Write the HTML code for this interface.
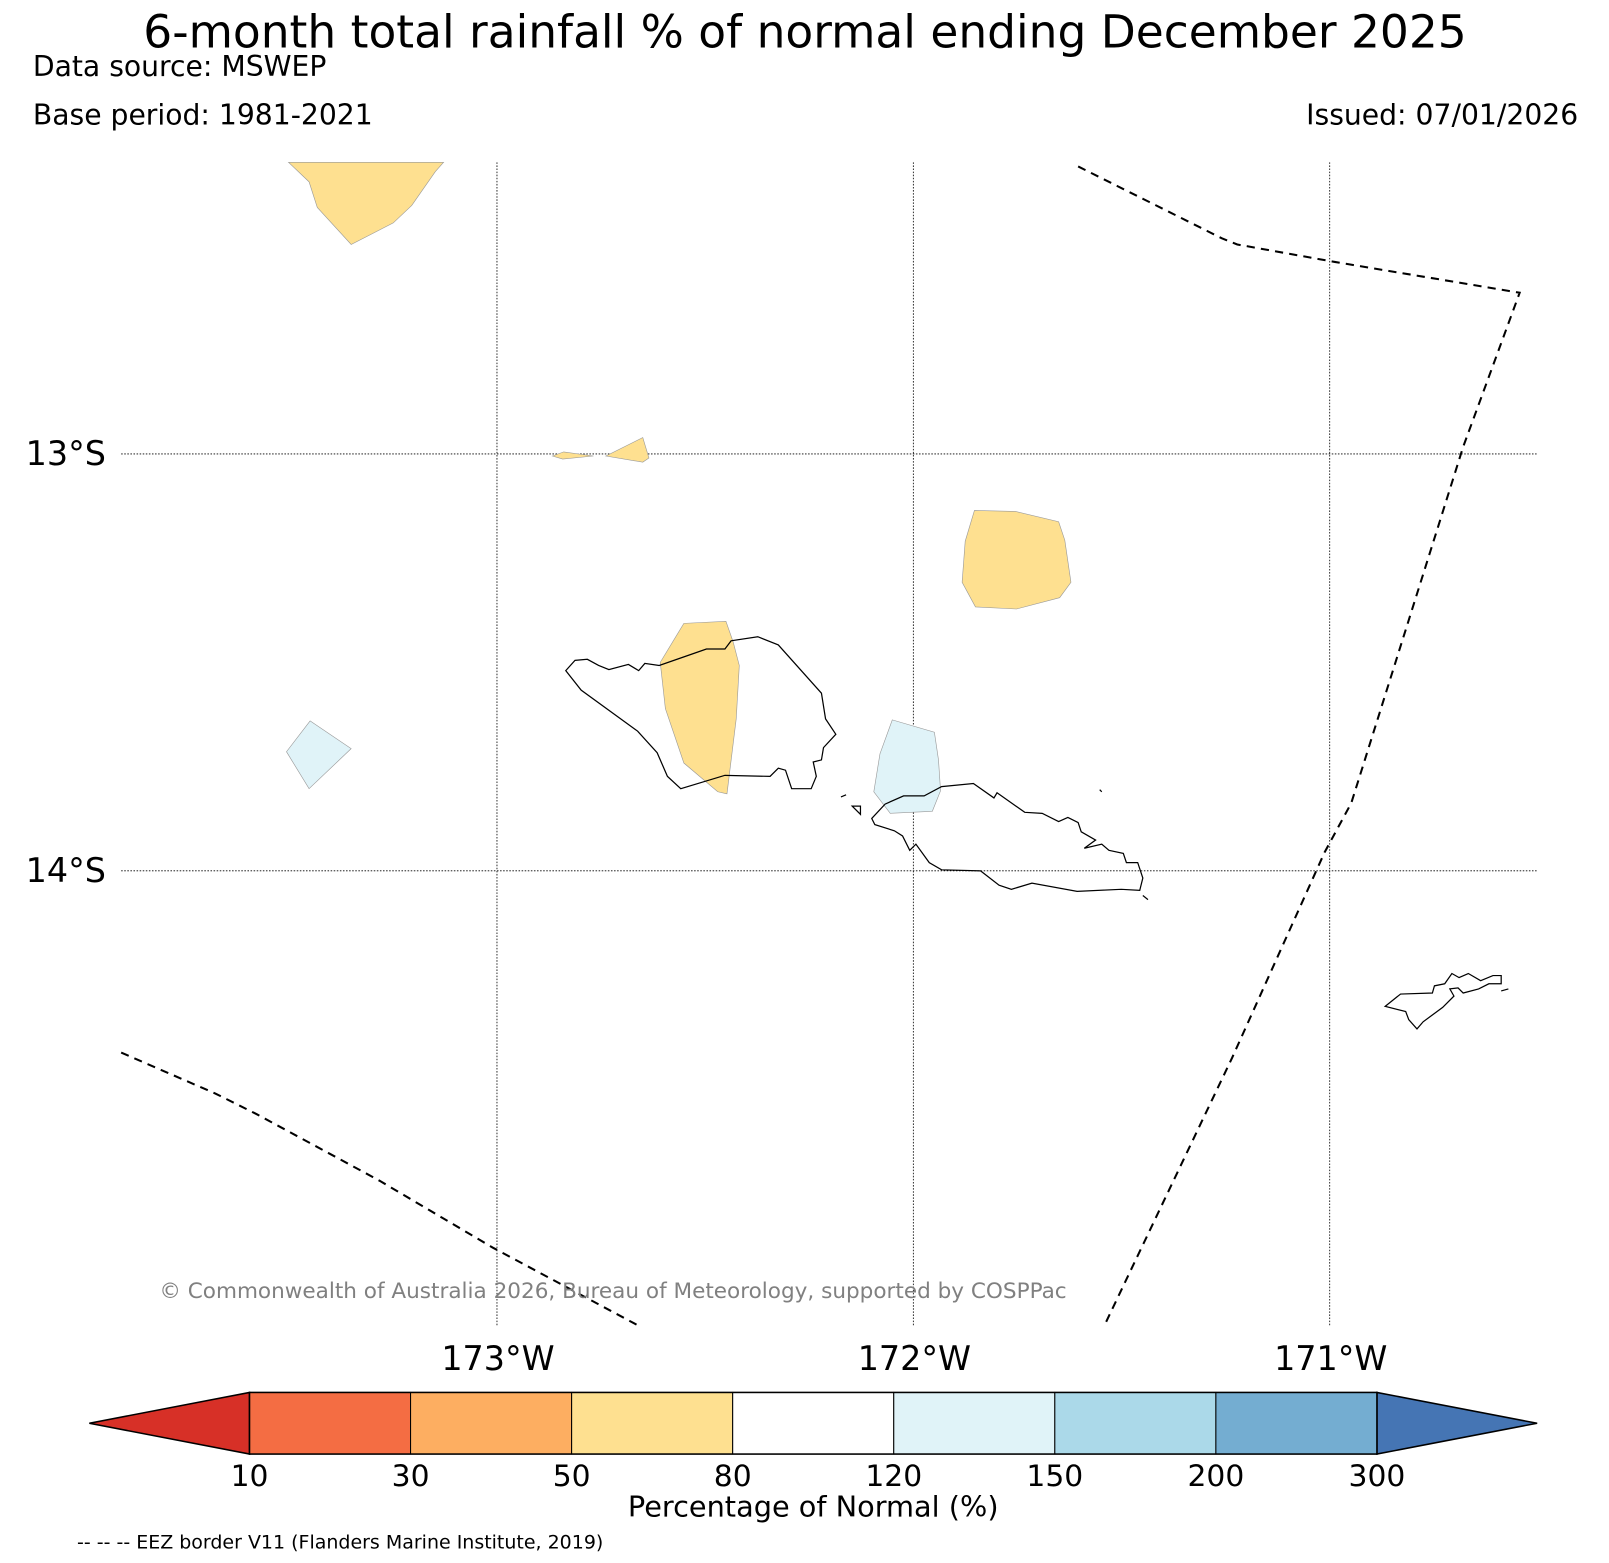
<!DOCTYPE html>
<html><head><meta charset="utf-8"><style>
html,body{margin:0;padding:0;background:#fff}
svg{display:block}
text{font-family:"DejaVu Sans","Liberation Sans",sans-serif}
</style></head><body>
<svg id="fig" width="1609" height="1563" viewBox="0 0 1567 1522" xmlns="http://www.w3.org/2000/svg">
<text x="784" y="46" font-size="44.3" text-anchor="middle">6-month total rainfall % of normal ending December 2025</text>
<text x="32" y="74" font-size="27.5">Data source: MSWEP</text>
<text x="32" y="121" font-size="27.5">Base period: 1981-2021</text>
<text x="1537" y="121" font-size="27.5" text-anchor="end">Issued: 07/01/2026</text>

<g>
<g id="grid" stroke="#000" stroke-width="0.8" stroke-dasharray="1.5,1.5"></g>
<g stroke="#999" stroke-width="0.6">
<path fill="#fee090" d="M281,158 301,177 309,202 342,238 383,217 401,200 424,167 432,158Z"/>
<path fill="#fee090" d="M538,444 549,440 578,444 548,447Z"/>
<path fill="#fee090" d="M590,444 626,426 632,446 626,450Z"/>
<path fill="#fee090" d="M949,497 989,498 1031,508 1037,526 1043,567 1032,582 990,593 950,591 937,567 940,527Z"/>
<path fill="#fee090" d="M666,607 707,605 714,625 720,648 717,700 708,773 699,771 666,743 648,690 643,645Z"/>
<path fill="#e0f3f8" d="M302,702 342,729 301,768 279,732Z"/>
<path fill="#e0f3f8" d="M869,701 910,713 914,740 916,770 908,790 867,792 851,771 857,734Z"/>
</g>
<g fill="none" stroke="#000" stroke-width="1.2">
<path d="M551,653 560,643 572,642 583,648 593,652 612,647 622,653 628,646 642,648 665,640 688,632 706,632 712,624 738,620 758,628 800,675 804,700 814,715 802,728 800,740 792,742 795,756 790,768 771,768 765,750 758,748 750,756 706,755 663,768 650,756 640,733 621,712 566,672Z"/>
<path d="M849,797 862,783 880,775 900,775 917,766 948,763 968,777 971,772 998,791 1015,792 1031,800 1040,796 1050,801 1053,810 1067,818 1056,826 1073,822 1080,828 1094,831 1097,840 1108,840 1113,855 1110,867 1092,866 1049,868 1005,860 985,866 973,862 955,848 917,847 905,840 892,822 886,828 879,814 871,809 852,803Z M1113,872 1118,876 M819,776 824,774 M830,785 838,793 838,785Z M1071,769 1073,771"/>
<path d="M1349,980 1364,968 1395,967 1397,960 1407,958 1414,948 1421,952 1430,948 1442,955 1454,950 1462,950 1462,958 1450,958 1440,963 1425,967 1420,962 1412,963 1416,970 1405,981 1386,995 1380,1002 1372,993 1369,985Z M1462,965 1469,963"/>
</g>
<g fill="none" stroke="#000" stroke-width="2" stroke-dasharray="8,6">
<path d="M1050,162 1190,232 1205,238 1300,255 1480,285 1425,435 1316,782 1290,830 1200,1030 1075,1292"/>
<path d="M118,1025 210,1065 250,1085 370,1150 480,1215 620,1290"/>
</g>
<text x="597" y="1264" font-size="21" fill="#808080" text-anchor="middle">© Commonwealth of Australia 2026, Bureau of Meteorology, supported by COSPPac</text>
</g>

<g id="cbar"></g>
<text x="792" y="1477" font-size="28" text-anchor="middle">Percentage of Normal (%)</text>
<text x="75" y="1508" font-size="18.5">-- -- -- EEZ border V11 (Flanders Marine Institute, 2019)</text>
</svg>
<script>
const NS="http://www.w3.org/2000/svg";
const lonTicks=[-173,-172,-171];
const lonLabels=["173°W","172°W","171°W"];
const latTicks=[-13,-14];
const latLabels=["13°S","14°S"];
const bounds=[10,30,50,80,120,150,200,300];
const boundLabels=["10","30","50","80","120","150","200","300"];
const segColors=["#f46d43","#fdae61","#fee090","#ffffff","#e0f3f8","#abd9e9","#74add1"];
const underColor="#d73027";
const overColor="#4575b4";

const mapL=118,mapR=1497,mapT=158,mapB=1292;
function xLon(lon){return 484+(lon+173)*405.5;}
function yLat(lat){return 442+(-13-lat)*406;}
function mk(tag,attrs,parent){const e=document.createElementNS(NS,tag);for(const k in attrs)e.setAttribute(k,attrs[k]);parent.appendChild(e);return e;}

const grid=document.getElementById('grid');
const fig=document.getElementById('fig');
lonTicks.forEach((v,i)=>{
  const l=mk('line',{x1:xLon(v),x2:xLon(v),y1:mapT,y2:mapB},grid);
  
  
  const t=mk('text',{x:xLon(v)+1,y:1334,'font-size':32.5,'text-anchor':'middle'},fig);
  t.textContent=lonLabels[i];
  
  
});
latTicks.forEach((v,i)=>{
  const l=mk('line',{x1:mapL,x2:mapR,y1:yLat(v),y2:yLat(v)},grid);
  
  
  const t=mk('text',{x:25,y:yLat(v)+11,'font-size':32.5},fig);
  t.textContent=latLabels[i];
  
  
});

const cb=document.getElementById('cbar');
const cbL=243,cbR=1341,cbT=1356,cbB=1416,tipL=87,tipR=1497;
const n=bounds.length-1;
function xB(i){return cbL+(cbR-cbL)*i/n;}
const under=mk('polygon',{points:`${tipL},${(cbT+cbB)/2} ${cbL},${cbT} ${cbL},${cbB}`,fill:underColor,stroke:'#000','stroke-width':1.5},cb);


const over=mk('polygon',{points:`${tipR},${(cbT+cbB)/2} ${cbR},${cbT} ${cbR},${cbB}`,fill:overColor,stroke:'#000','stroke-width':1.5},cb);


segColors.forEach((c,i)=>{
  const r=mk('rect',{x:xB(i),y:cbT,width:xB(i+1)-xB(i),height:cbB-cbT,fill:c,stroke:'#000','stroke-width':1},cb);
  
  
});
const outline=mk('rect',{x:cbL,y:cbT,width:cbR-cbL,height:cbB-cbT,fill:'none',stroke:'#000','stroke-width':1.5},cb);


boundLabels.forEach((s,i)=>{
  const t=mk('text',{x:xB(i),y:1447,'font-size':29,'text-anchor':'middle'},cb);
  t.textContent=s;
  
  
});
</script>
</body></html>
